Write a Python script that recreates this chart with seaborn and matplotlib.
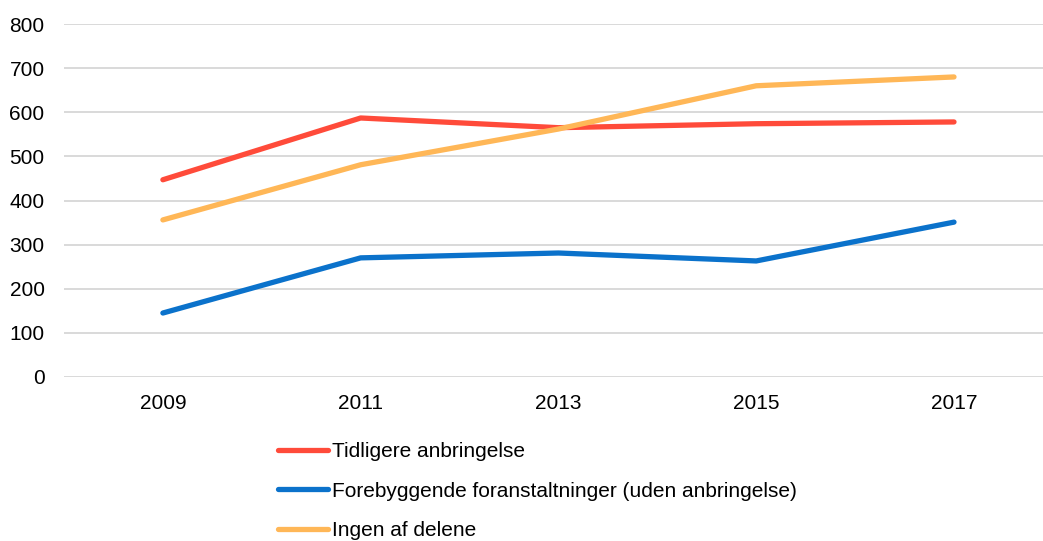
import matplotlib
matplotlib.use("Agg")
import matplotlib.pyplot as plt
import seaborn as sns
import pandas as pd

years = [2009, 2011, 2013, 2015, 2017]
tidligere = [447, 587, 565, 574, 578]
forebyggende = [145, 270, 281, 263, 351]
ingen = [356, 481, 562, 660, 680]

series_names = [
    "Tidligere anbringelse",
    "Forebyggende foranstaltninger (uden anbringelse)",
    "Ingen af delene",
]
colors = ["#FF4B3A", "#0B72CB", "#FFB757"]

df = pd.DataFrame({
    "year": years * 3,
    "value": tidligere + forebyggende + ingen,
    "series": [series_names[0]] * 5 + [series_names[1]] * 5 + [series_names[2]] * 5,
})

sns.set_style("white")
plt.rcParams["font.family"] = ["Liberation Sans", "DejaVu Sans"]
plt.rcParams["text.color"] = "black"

fig = plt.figure(figsize=(10.43, 5.41), dpi=100)
ax = fig.add_axes([64 / 1043, 1 - 377 / 541, (1043 - 64) / 1043, (377 - 24) / 541])

sns.lineplot(data=df, x="year", y="value", hue="series", palette=colors,
             linewidth=3.8, ax=ax, legend=False, solid_capstyle="round")

ax.set_xlim(2008, 2017.9)
ax.set_ylim(0, 800)
ax.set_xticks(years)
ax.set_xticklabels([str(y) for y in years])
ax.set_yticks(range(0, 801, 100))
ax.yaxis.grid(True, color="#D9D9D9", linewidth=1.4)
ax.set_axisbelow(True)
for s in ax.spines.values():
    s.set_visible(False)
ax.tick_params(axis="both", length=0, labelsize=15, colors="#000000")
ax.tick_params(axis="x", pad=12)
ax.tick_params(axis="y", pad=14)
ax.set_xlabel("")
ax.set_ylabel("")

handles = [plt.Line2D([], [], color=c, linewidth=3.8, solid_capstyle="round") for c in colors]
leg = fig.legend(handles, series_names, loc="upper left", bbox_to_anchor=(270 / 1043, 1 - 434 / 541),
                 frameon=False, fontsize=15, handlelength=2.4, handletextpad=0.2,
                 labelspacing=0.98, borderaxespad=0)
for t in leg.get_texts():
    t.set_color("black")

fig.savefig("out.png", dpi=100)
